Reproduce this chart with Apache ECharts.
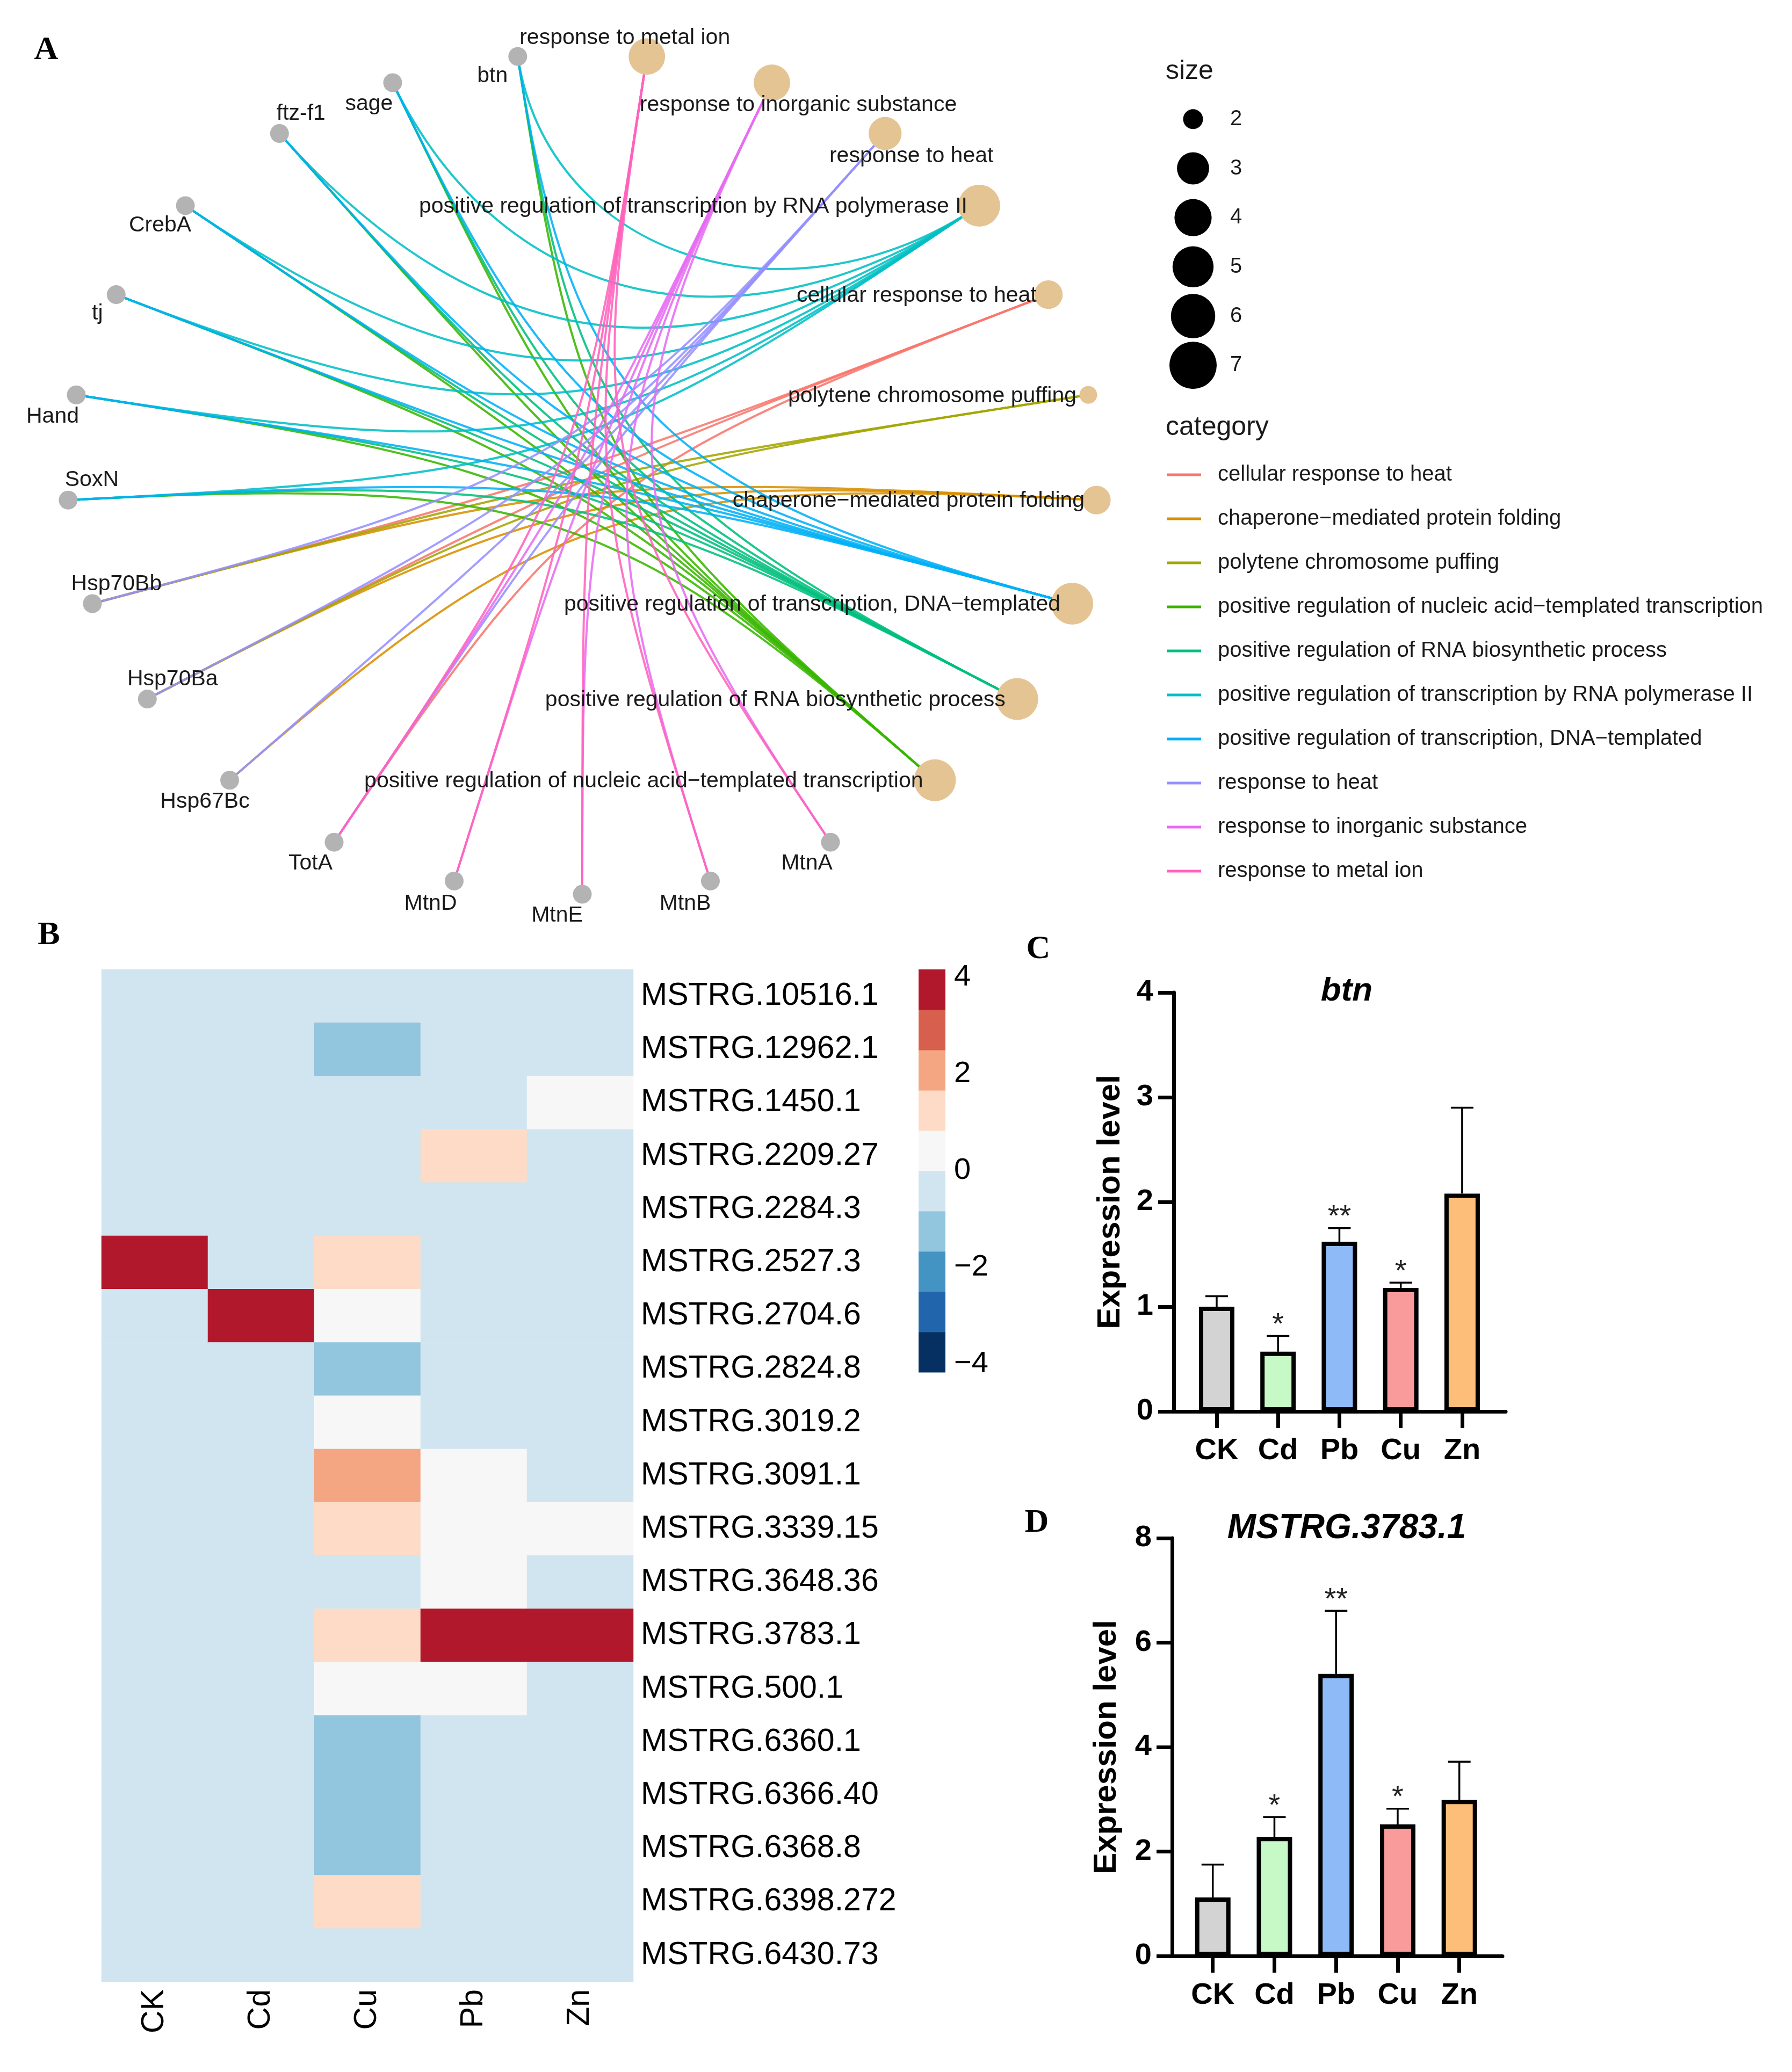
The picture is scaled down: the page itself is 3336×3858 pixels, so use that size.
<!DOCTYPE html>
<html>
<head>
<meta charset="utf-8">
<script src="https://cdn.jsdelivr.net/npm/echarts@6/dist/echarts.min.js"></script>
<style>html,body{margin:0;padding:0;background:#fff}#chart{width:3336px;height:3858px}</style>
</head>
<body>
<div id="chart"></div>
<script>
// ===================== DATA =====================
// Panel A: nodes in circular order (clockwise, starting just right of the top)
const circleOrder = [
  'response to metal ion', 'response to inorganic substance', 'response to heat',
  'positive regulation of transcription by RNA polymerase II', 'cellular response to heat',
  'polytene chromosome puffing', 'chaperone\u2212mediated protein folding',
  'positive regulation of transcription, DNA\u2212templated', 'positive regulation of RNA biosynthetic process',
  'positive regulation of nucleic acid\u2212templated transcription',
  'MtnA', 'MtnB', 'MtnE', 'MtnD', 'TotA', 'Hsp67Bc', 'Hsp70Ba', 'Hsp70Bb',
  'SoxN', 'Hand', 'tj', 'CrebA', 'ftz-f1', 'sage', 'btn'
];
// GO terms (legend order)
const termNames = [
  'cellular response to heat',
  'chaperone\u2212mediated protein folding',
  'polytene chromosome puffing',
  'positive regulation of nucleic acid\u2212templated transcription',
  'positive regulation of RNA biosynthetic process',
  'positive regulation of transcription by RNA polymerase II',
  'positive regulation of transcription, DNA\u2212templated',
  'response to heat',
  'response to inorganic substance',
  'response to metal ion'
];
const tfGenes = ['btn', 'sage', 'ftz-f1', 'CrebA', 'tj', 'Hand', 'SoxN'];
const genesCellularHeat = ['Hsp70Bb', 'Hsp70Ba', 'TotA'];
const genesChaperone = ['Hsp70Bb', 'Hsp70Ba', 'Hsp67Bc'];
const genesPolytene = ['Hsp70Bb', 'Hsp70Ba'];
const genesHeat = ['Hsp70Bb', 'Hsp70Ba', 'Hsp67Bc', 'TotA'];
const genesInorganic = ['MtnA', 'MtnB', 'MtnE', 'MtnD', 'TotA'];
const genesMetalIon = ['MtnA', 'MtnB', 'MtnE', 'MtnD', 'TotA'];
const termGenes = [genesCellularHeat, genesChaperone, genesPolytene, tfGenes, tfGenes, tfGenes, tfGenes,
                   genesHeat, genesInorganic, genesMetalIon];
const sizeLevels = [2, 3, 4, 5, 6, 7];

// Panel B: heatmap
const heatCols = ['CK', 'Cd', 'Cu', 'Pb', 'Zn'];
const heatRows = ['MSTRG.10516.1', 'MSTRG.12962.1', 'MSTRG.1450.1', 'MSTRG.2209.27', 'MSTRG.2284.3',
  'MSTRG.2527.3', 'MSTRG.2704.6', 'MSTRG.2824.8', 'MSTRG.3019.2', 'MSTRG.3091.1', 'MSTRG.3339.15',
  'MSTRG.3648.36', 'MSTRG.3783.1', 'MSTRG.500.1', 'MSTRG.6360.1', 'MSTRG.6366.40', 'MSTRG.6368.8',
  'MSTRG.6398.272', 'MSTRG.6430.73'];
const heatCK = [-0.42, -0.40, -0.45, -0.38, -0.41, 4.10, -0.43, -0.40, -0.39, -0.44, -0.41, -0.40, -0.42, -0.40, -0.38, -0.41, -0.43, -0.40, -0.42];
const heatCd = [-0.40, -0.42, -0.41, -0.44, -0.39, -0.42, 4.12, -0.41, -0.40, -0.43, -0.39, -0.41, -0.40, -0.44, -0.42, -0.40, -0.41, -0.43, -0.40];
const heatCu = [-0.45, -1.25, -0.40, -0.42, -0.41, 1.20, 0.35, -1.20, 0.40, 2.00, 1.10, -0.43, 1.05, 0.30, -1.30, -1.22, -1.25, 1.15, -0.40];
const heatPb = [-0.41, -0.39, -0.43, 1.10, -0.40, -0.42, -0.41, -0.44, -0.40, 0.30, 0.35, 0.40, 4.16, 0.35, -0.41, -0.40, -0.42, -0.39, -0.41];
const heatZn = [-0.40, -0.42, 0.30, -0.41, -0.43, -0.40, -0.41, -0.39, -0.42, -0.40, 0.45, -0.41, 4.00, -0.43, -0.40, -0.42, -0.41, -0.40, -0.44];
const heatLimit = 4.1667;
const heatLegendTicks = [-4, -2, 0, 2, 4];

// Panels C and D: qPCR
const barGroups = ['CK', 'Cd', 'Pb', 'Cu', 'Zn'];
const btnMean = [1.00, 0.57, 1.62, 1.18, 2.08];
const btnSD = [0.10, 0.15, 0.13, 0.05, 0.82];
const btnSig = ['', '*', '**', '*', ''];
const mstrgMean = [1.12, 2.28, 5.40, 2.52, 2.99];
const mstrgSD = [0.63, 0.38, 1.21, 0.30, 0.73];
const mstrgSig = ['', '*', '**', '*', ''];

// ===================== STYLE =====================
const FONT = "'Liberation Sans', Arial, Helvetica, sans-serif";
const SERIF = "'Liberation Serif', 'Times New Roman', serif";
const termColors = ['#F8766D', '#D89000', '#A3A500', '#39B600', '#00BF7D', '#00BFC4', '#00B0F6', '#9590FF', '#E76BF3', '#FF62BC'];
const heatPalette = ['#053061', '#2166AC', '#4393C3', '#92C5DE', '#D1E5F0', '#F7F7F7', '#FDDBC7', '#F4A582', '#D6604D', '#B2182B'];
const barColors = ['#D3D3D3', '#C6F9C6', '#8EBAF7', '#FA9B9B', '#FDBE7A'];
const SIZE_MIN = 33, SIZE_MAX = 78, GENE_SIZE = 35;
const LEGEND_MIN = 37, LEGEND_MAX = 88;
const labelPlace = {
  'btn': [-47, 37], 'sage': [-44, 40], 'ftz-f1': [40, -37], 'CrebA': [-47, 37], 'tj': [-35, 35],
  'Hand': [-44, 40], 'SoxN': [44, -37], 'Hsp70Bb': [45, -36], 'Hsp70Ba': [47, -37], 'Hsp67Bc': [-46, 40],
  'TotA': [-44, 40], 'MtnD': [-44, 42], 'MtnE': [-47, 40], 'MtnB': [-47, 42], 'MtnA': [-44, 40],
  'response to metal ion': [-41, -34, 'center'],
  'response to inorganic substance': [49, 42, 'center'],
  'response to heat': [49, 42, 'center']
};

// ===================== LAYOUT HELPERS =====================
const N = circleOrder.length;
const nodePos = {};
circleOrder.forEach((name, i) => {
  const a = (90 - 180 / N - 360 * i / N) * Math.PI / 180;
  nodePos[name] = [Math.cos(a), Math.sin(a)];
});
const scaleSize = (v, lo, hi) => lo + (hi - lo) *
  Math.sqrt((v - sizeLevels[0]) / (sizeLevels[sizeLevels.length - 1] - sizeLevels[0]));
const nodeSize = v => scaleSize(v, SIZE_MIN, SIZE_MAX);

function edgeRender(params, api) {
  const x1 = api.value(0), y1 = api.value(1), x2 = api.value(2), y2 = api.value(3);
  const f = 1 - Math.hypot(x1 - x2, y1 - y2) / 2;
  const p1 = api.coord([x1, y1]), p2 = api.coord([x2, y2]);
  const c1 = api.coord([x1 * f, y1 * f]), c2 = api.coord([x2 * f, y2 * f]);
  return {
    type: 'bezierCurve',
    shape: { x1: p1[0], y1: p1[1], x2: p2[0], y2: p2[1], cpx1: c1[0], cpy1: c1[1], cpx2: c2[0], cpy2: c2[1] },
    style: { stroke: api.visual('color'), lineWidth: 4, fill: null, opacity: 0.88 }
  };
}

const edgeSeries = termNames.map((t, k) => ({
  type: 'custom', name: t, coordinateSystem: 'cartesian2d', xAxisIndex: 0, yAxisIndex: 0,
  itemStyle: { color: termColors[k] }, color: termColors[k],
  renderItem: edgeRender, clip: false, silent: true, z: 2,
  encode: { x: [0, 2], y: [1, 3] },
  data: termGenes[k].map(g => [nodePos[g][0], nodePos[g][1], nodePos[t][0], nodePos[t][1]])
}));

const geneNodes = [], termNodes = [];
circleOrder.forEach(name => {
  const k = termNames.indexOf(name);
  const lp = labelPlace[name] || [-22, 2, 'right'];
  const item = {
    name: name, value: nodePos[name],
    label: { offset: [lp[0], lp[1]], align: lp[2] || 'center' }
  };
  if (k >= 0) { item.symbolSize = nodeSize(termGenes[k].length); termNodes.push(item); }
  else { item.symbolSize = GENE_SIZE; geneNodes.push(item); }
});
const nodeLabel = {
  show: true, position: 'inside', formatter: '{b}', fontSize: 41, fontFamily: FONT,
  color: '#1a1a1a', verticalAlign: 'middle'
};

const heatColsData = [heatCK, heatCd, heatCu, heatPb, heatZn];
const heatData = [];
heatColsData.forEach((col, c) => col.forEach((v, r) => heatData.push([c, r, v])));
const step = 2 * heatLimit / heatPalette.length;
const heatPieces = heatPalette.map((col, i) => ({ min: -heatLimit + i * step, max: -heatLimit + (i + 1) * step, color: col }));
const colorbarData = heatPalette.map((col, i) => [0, -heatLimit + i * step, -heatLimit + (i + 1) * step, i]);

function makeErr(sig) {
  return function (params, api) {
    const i = api.value(0), m = api.value(1), s = api.value(2);
    const base = api.coord([i, m]), top = api.coord([i, m + s]);
    const children = [
      { type: 'line', shape: { x1: base[0], y1: base[1], x2: top[0], y2: top[1] }, style: { stroke: '#000', lineWidth: 3.5 } },
      { type: 'line', shape: { x1: top[0] - 21, y1: top[1], x2: top[0] + 21, y2: top[1] }, style: { stroke: '#000', lineWidth: 3.5 } }
    ];
    const t = sig[params.dataIndex];
    if (t) children.push({
      type: 'text', x: top[0], y: top[1] - 20,
      style: { text: t, fontSize: 56, fontFamily: FONT, fill: '#222', align: 'center', verticalAlign: 'middle',
               textAlign: 'center', textVerticalAlign: 'middle' }
    });
    return { type: 'group', children: children };
  };
}

function barXAxis(grid, min, max) {
  return {
    gridIndex: grid, type: 'value', min: min, max: max,
    axisLine: { show: true, onZero: false, lineStyle: { color: '#000', width: 7 } },
    axisTick: { show: true, customValues: barGroups.map((g, i) => i), length: 31, lineStyle: { color: '#000', width: 7 } },
    axisLabel: { show: true, customValues: barGroups.map((g, i) => i), formatter: v => barGroups[Math.round(v)],
                 fontSize: 56, fontWeight: 'bold', fontFamily: FONT, color: '#000', margin: 46 },
    splitLine: { show: false }
  };
}
function barYAxis(grid, max, interval, gap) {
  return {
    gridIndex: grid, type: 'value', min: 0, max: max, interval: interval,
    axisLine: { show: true, onZero: false, lineStyle: { color: '#000', width: 7 } },
    axisTick: { show: true, length: 29, lineStyle: { color: '#000', width: 7 } },
    axisLabel: { fontSize: 56, fontWeight: 'bold', fontFamily: FONT, color: '#000', margin: 38 },
    splitLine: { show: false },
    name: 'Expression level', nameLocation: 'middle', nameRotate: 90, nameGap: gap,
    nameTextStyle: { fontSize: 60, fontWeight: 'bold', fontFamily: FONT, color: '#000' }
  };
}
function barSeries(xi, mean) {
  return {
    type: 'bar', xAxisIndex: xi, yAxisIndex: xi, barWidth: 66, z: 3, silent: true,
    itemStyle: { borderColor: '#000', borderWidth: 8 },
    data: barGroups.map((g, i) => ({ value: [i, mean[i]], itemStyle: { color: barColors[i] } }))
  };
}
function errSeries(xi, mean, sd, sig) {
  return {
    type: 'custom', xAxisIndex: xi, yAxisIndex: xi, z: 4, silent: true, clip: false,
    renderItem: makeErr(sig), encode: { x: 0, y: 1 },
    data: barGroups.map((g, i) => [i, mean[i], sd[i]])
  };
}
function txt(x, y, text, size, extra) {
  return {
    type: 'text', x: x, y: y, silent: true,
    style: Object.assign({ text: text, fontSize: size, fontFamily: FONT, fill: '#1a1a1a',
      textAlign: 'center', textVerticalAlign: 'middle', align: 'center', verticalAlign: 'middle' }, extra || {})
  };
}

// ===================== OPTION =====================
const option = {
  backgroundColor: '#fff',
  animation: false,
  grid: [
    { left: 125, top: 99, width: 1918, height: 1566 },      // 0 network
    { left: 2221, top: 176, width: 200, height: 550 },      // 1 size legend
    { left: 189, top: 1805, width: 990, height: 1885 },     // 2 heatmap
    { left: 1710, top: 1805, width: 50, height: 750 },      // 3 colour bar
    { left: 2185, top: 1848, width: 618, height: 780 },     // 4 panel C
    { left: 2182, top: 2864, width: 615, height: 778 }      // 5 panel D
  ],
  xAxis: [
    { gridIndex: 0, type: 'value', min: -1, max: 1, show: false },
    { gridIndex: 1, type: 'value', min: 0, max: 1, show: false },
    { gridIndex: 2, type: 'category', data: heatCols, axisLine: { show: false }, axisTick: { show: false },
      axisLabel: { rotate: 90, fontSize: 59, fontFamily: FONT, color: '#000', margin: 14 } },
    { gridIndex: 3, type: 'category', data: [''], show: false },
    barXAxis(4, -0.70, 4.71),
    barXAxis(5, -0.66, 4.70)
  ],
  yAxis: [
    { gridIndex: 0, type: 'value', min: -1, max: 1, show: false },
    { gridIndex: 1, type: 'category', data: sizeLevels.map(String), inverse: true, show: false },
    { gridIndex: 2, type: 'category', data: heatRows, inverse: true, position: 'right',
      axisLine: { show: false }, axisTick: { show: false },
      axisLabel: { fontSize: 59, fontFamily: FONT, color: '#000', margin: 14 } },
    { gridIndex: 3, type: 'value', min: -heatLimit, max: heatLimit, position: 'right',
      axisLine: { show: false }, axisTick: { show: false }, splitLine: { show: false },
      axisLabel: { customValues: heatLegendTicks, formatter: v => String(v).replace('-', '\u2212'),
                   fontSize: 56, fontFamily: FONT, color: '#000', margin: 16 } },
    barYAxis(4, 4, 1, 88),
    barYAxis(5, 8, 2, 92)
  ],
  visualMap: [{ type: 'piecewise', show: false, seriesIndex: 13, dimension: 2, pieces: heatPieces }],
  legend: {
    data: termNames, orient: 'vertical', left: 2172, top: 859, padding: 0, selectedMode: false,
    icon: 'rect', itemWidth: 64, itemHeight: 5, itemGap: 32,
    textStyle: { fontSize: 40, fontFamily: FONT, color: '#1a1a1a', lineHeight: 50, padding: [0, 0, 0, 26] }
  },
  graphic: [
    txt(86, 94, 'A', 62, { fontFamily: SERIF, fontWeight: 'bold', fill: '#000' }),
    txt(91, 1742, 'B', 62, { fontFamily: SERIF, fontWeight: 'bold', fill: '#000' }),
    txt(1933, 1768, 'C', 62, { fontFamily: SERIF, fontWeight: 'bold', fill: '#000' }),
    txt(1930, 2836, 'D', 62, { fontFamily: SERIF, fontWeight: 'bold', fill: '#000' }),
    txt(2170, 133, 'size', 50, { textAlign: 'left', align: 'left' }),
    txt(2170, 796, 'category', 50, { textAlign: 'left', align: 'left' }),
    txt(2507, 1846, 'btn', 62, { fontWeight: 'bold', fontStyle: 'italic', fill: '#000' }),
    txt(2507, 2846, 'MSTRG.3783.1', 64, { fontWeight: 'bold', fontStyle: 'italic', fill: '#000' })
  ],
  series: edgeSeries.concat([
    { // 10 gene nodes
      type: 'scatter', xAxisIndex: 0, yAxisIndex: 0, clip: false, silent: true, z: 5,
      itemStyle: { color: '#B3B3B3', opacity: 1 }, label: nodeLabel, data: geneNodes
    },
    { // 11 term nodes
      type: 'scatter', xAxisIndex: 0, yAxisIndex: 0, clip: false, silent: true, z: 5,
      itemStyle: { color: '#E5C494', opacity: 1 }, label: nodeLabel, data: termNodes
    },
    { // 12 size legend
      type: 'scatter', xAxisIndex: 1, yAxisIndex: 1, clip: false, silent: true,
      itemStyle: { color: '#000', opacity: 1 },
      label: { show: true, position: 'inside', formatter: '{b}', offset: [80, 0], fontSize: 40, fontFamily: FONT, color: '#1a1a1a' },
      data: sizeLevels.map(v => ({ name: String(v), value: [0, String(v)], symbolSize: scaleSize(v, LEGEND_MIN, LEGEND_MAX) }))
    },
    { // 13 heatmap
      type: 'heatmap', xAxisIndex: 2, yAxisIndex: 2, silent: true, progressive: 0,
      itemStyle: { borderWidth: 0 }, emphasis: { disabled: true }, data: heatData
    },
    { // 14 colour bar
      type: 'custom', xAxisIndex: 3, yAxisIndex: 3, silent: true, encode: { x: 0, y: [1, 2] },
      renderItem: function (params, api) {
        const lo = api.coord([0, api.value(1)]), hi = api.coord([0, api.value(2)]);
        const w = api.size([1, 0])[0];
        return { type: 'rect', shape: { x: lo[0] - w / 2, y: hi[1], width: w, height: lo[1] - hi[1] + 0.5 },
                 style: { fill: heatPalette[api.value(3)] } };
      },
      data: colorbarData
    },
    barSeries(4, btnMean),                       // 15
    errSeries(4, btnMean, btnSD, btnSig),        // 16
    barSeries(5, mstrgMean),                     // 17
    errSeries(5, mstrgMean, mstrgSD, mstrgSig)   // 18
  ])
};

const chart = echarts.init(document.getElementById('chart'));
chart.setOption(option);
</script>
</body>
</html>
